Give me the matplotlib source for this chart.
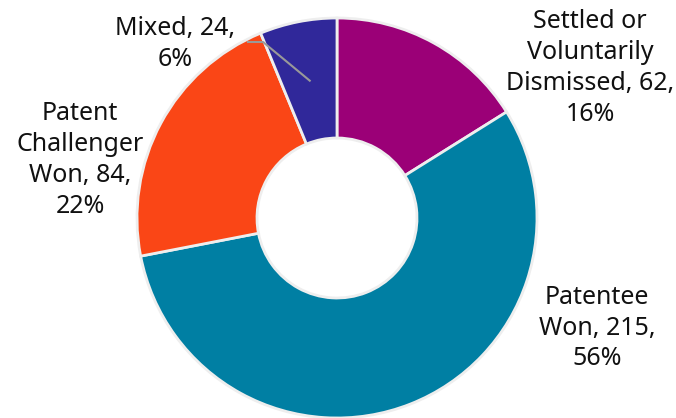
import matplotlib
matplotlib.use("Agg")
import matplotlib.pyplot as plt
import numpy as np

labels = ["Settled or\nVoluntarily\nDismissed", "Patentee\nWon", "Patent\nChallenger\nWon", "Mixed"]
values = [62, 215, 84, 24]
colors = ["#9b0077", "#007fa3", "#fa4616", "#30289a"]

plt.rcParams['font.family'] = ['Noto Sans', 'DejaVu Sans']

fig = plt.figure(figsize=(6.76, 4.18), dpi=100)
ax = fig.add_axes([0, 0, 1, 1])

wedges, _ = ax.pie(values, colors=colors, startangle=90, counterclock=False,
                   radius=1.0, wedgeprops=dict(width=0.6, edgecolor="#eeeeee", linewidth=2))

ax.set_xlim(-1.685, 1.695)
ax.set_ylim(-1.0, 1.09)
ax.set_aspect("equal")
ax.axis("off")

total = sum(values)
texts = [f"{l}, {v},\n{round(v / total * 100)}%" for l, v in zip(labels, values)]
texts[1] = f"Patentee\nWon, {values[1]},\n{round(values[1] / total * 100)}%"
texts[2] = f"Patent\nChallenger\nWon, {values[2]},\n{round(values[2] / total * 100)}%"

label_pos = [(1.265, 0.75), (1.30, -0.55), (-1.285, 0.29), (-0.81, 0.87)]
for t, (x, y) in zip(texts, label_pos):
    ax.text(x, y, t, ha="center", va="center", fontsize=18, color="#111111",
            linespacing=1.3)

# leader line for the small slice
w = wedges[3]
ang = np.deg2rad((w.theta1 + w.theta2) / 2)
x0, y0 = 0.7 * np.cos(ang), 0.7 * np.sin(ang)
ax.plot([x0, -0.37, -0.445], [y0, 0.88, 0.88], color="#999999", lw=1.5)

fig.savefig("out.png", dpi=100)
